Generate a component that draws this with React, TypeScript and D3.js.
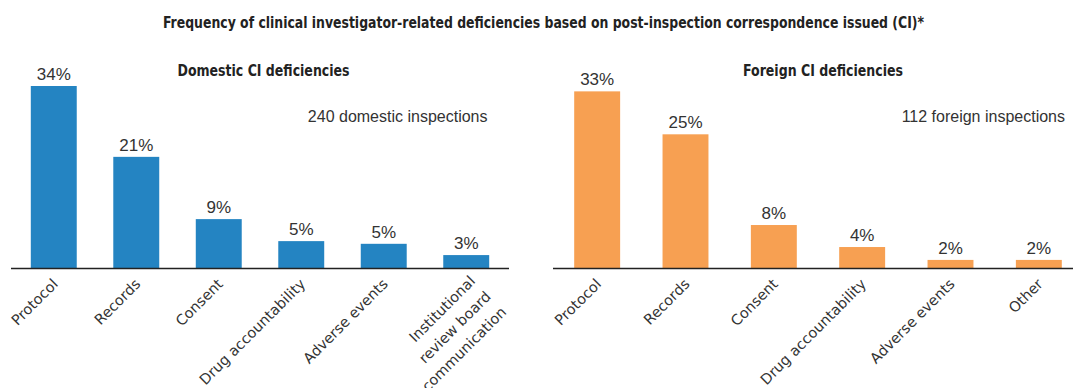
import React from "react";
import * as d3 from "d3";

const domesticCategories = [
  "Protocol",
  "Records",
  "Consent",
  "Drug accountability",
  "Adverse events",
  "Institutional\nreview board\ncommunication",
];
const domesticValues = [34.0, 20.8, 9.2, 5.1, 4.6, 2.5];
const domesticLabels = ["34%", "21%", "9%", "5%", "5%", "3%"];

const foreignCategories = [
  "Protocol",
  "Records",
  "Consent",
  "Drug accountability",
  "Adverse events",
  "Other",
];
const foreignValues = [33.0, 25.0, 8.1, 4.0, 1.6, 1.6];
const foreignLabels = ["33%", "25%", "8%", "4%", "2%", "2%"];

const W = 1073;
const H = 388;
const BASE = 268.5;

const BLUE = "#2484c2";
const ORANGE = "#f7a052";
const TXT = "#333";

const y = d3.scaleLinear().domain([0, 34]).range([BASE, 86]);

type PanelProps = {
  cats: string[];
  vals: number[];
  labels: string[];
  color: string;
  range: [number, number];
  pInner: number;
  axisEnd: number;
  title: string;
  titleX: number;
  titleW: number;
  note: string;
  noteX: number;
};

function Panel(p: PanelProps) {
  const x = d3
    .scaleBand<string>()
    .domain(p.cats)
    .range(p.range)
    .paddingInner(p.pInner)
    .paddingOuter(0.24);
  const bw = x.bandwidth();
  return (
    <g>
      <text
        x={p.titleX}
        y={76}
        textAnchor="middle"
        fontFamily="'Liberation Sans Narrow','DejaVu Sans Condensed','Liberation Sans',sans-serif"
        fontWeight="bold"
        fontSize={16}
        fill="#222"
        textLength={p.titleW}
        lengthAdjust="spacingAndGlyphs"
      >
        {p.title}
      </text>
      <text
        x={p.noteX}
        y={121.5}
        textAnchor="end"
        fontFamily="'Liberation Sans',Arial,sans-serif"
        fontSize={16}
        fill={TXT}
      >
        {p.note}
      </text>
      {p.cats.map((c, i) => {
        const x0 = x(c)!;
        const cx = x0 + bw / 2;
        const v = p.vals[i];
        const lines = c.split("\n");
        return (
          <g key={c}>
            <rect x={x0} y={y(v)} width={bw} height={y(0) - y(v)} fill={p.color} />
            <text
              x={cx}
              y={y(v) - 6}
              textAnchor="middle"
              fontFamily="'Liberation Sans',Arial,sans-serif"
              fontSize={17}
              fill={TXT}
            >
              {p.labels[i]}
            </text>
            {lines.map((ln, j) => {
              const multi = lines.length > 1;
              const ax = cx + (multi ? 10 : 5) + j * 15.5;
              const ay = (multi ? 282 : 285) + j * 15.5;
              return (
                <text
                  key={j}
                  transform={`translate(${ax},${ay}) rotate(-45)`}
                  textAnchor="end"
                  fontFamily="'DejaVu Sans',Verdana,sans-serif"
                  fontSize={14.5}
                  fill={TXT}
                >
                  {ln}
                </text>
              );
            })}
          </g>
        );
      })}
      <line
        x1={p.range[0]}
        x2={p.axisEnd}
        y1={BASE}
        y2={BASE}
        stroke="#222"
        strokeWidth={1.5}
      />
    </g>
  );
}

export default function App() {
  return (
    <svg
      width={W}
      height={H}
      style={{ position: "absolute", left: 0, top: 0, background: "#fff" }}
    >
      <rect width={W} height={H} fill="#fff" />
      <text
        x={543.5}
        y={27.5}
        textAnchor="middle"
        fontFamily="'Liberation Sans Narrow','DejaVu Sans Condensed','Liberation Sans',sans-serif"
        fontWeight="bold"
        fontSize={15}
        fill="#222"
        textLength={761}
        lengthAdjust="spacingAndGlyphs"
      >
        Frequency of clinical investigator-related deficiencies based on post-inspection correspondence issued (CI)*
      </text>
      <Panel
        cats={domesticCategories}
        vals={domesticValues}
        labels={domesticLabels}
        color={BLUE}
        range={[11, 509]}
        pInner={0.443}
        axisEnd={509}
        title="Domestic CI deficiencies"
        titleX={263.5}
        titleW={172}
        note="240 domestic inspections"
        noteX={487.5}
      />
      <Panel
        cats={foreignCategories}
        vals={foreignValues}
        labels={foreignLabels}
        color={ORANGE}
        range={[553, 1083]}
        pInner={0.48}
        axisEnd={1073}
        title="Foreign CI deficiencies"
        titleX={823}
        titleW={160}
        note="112 foreign inspections"
        noteX={1065}
      />
    </svg>
  );
}
